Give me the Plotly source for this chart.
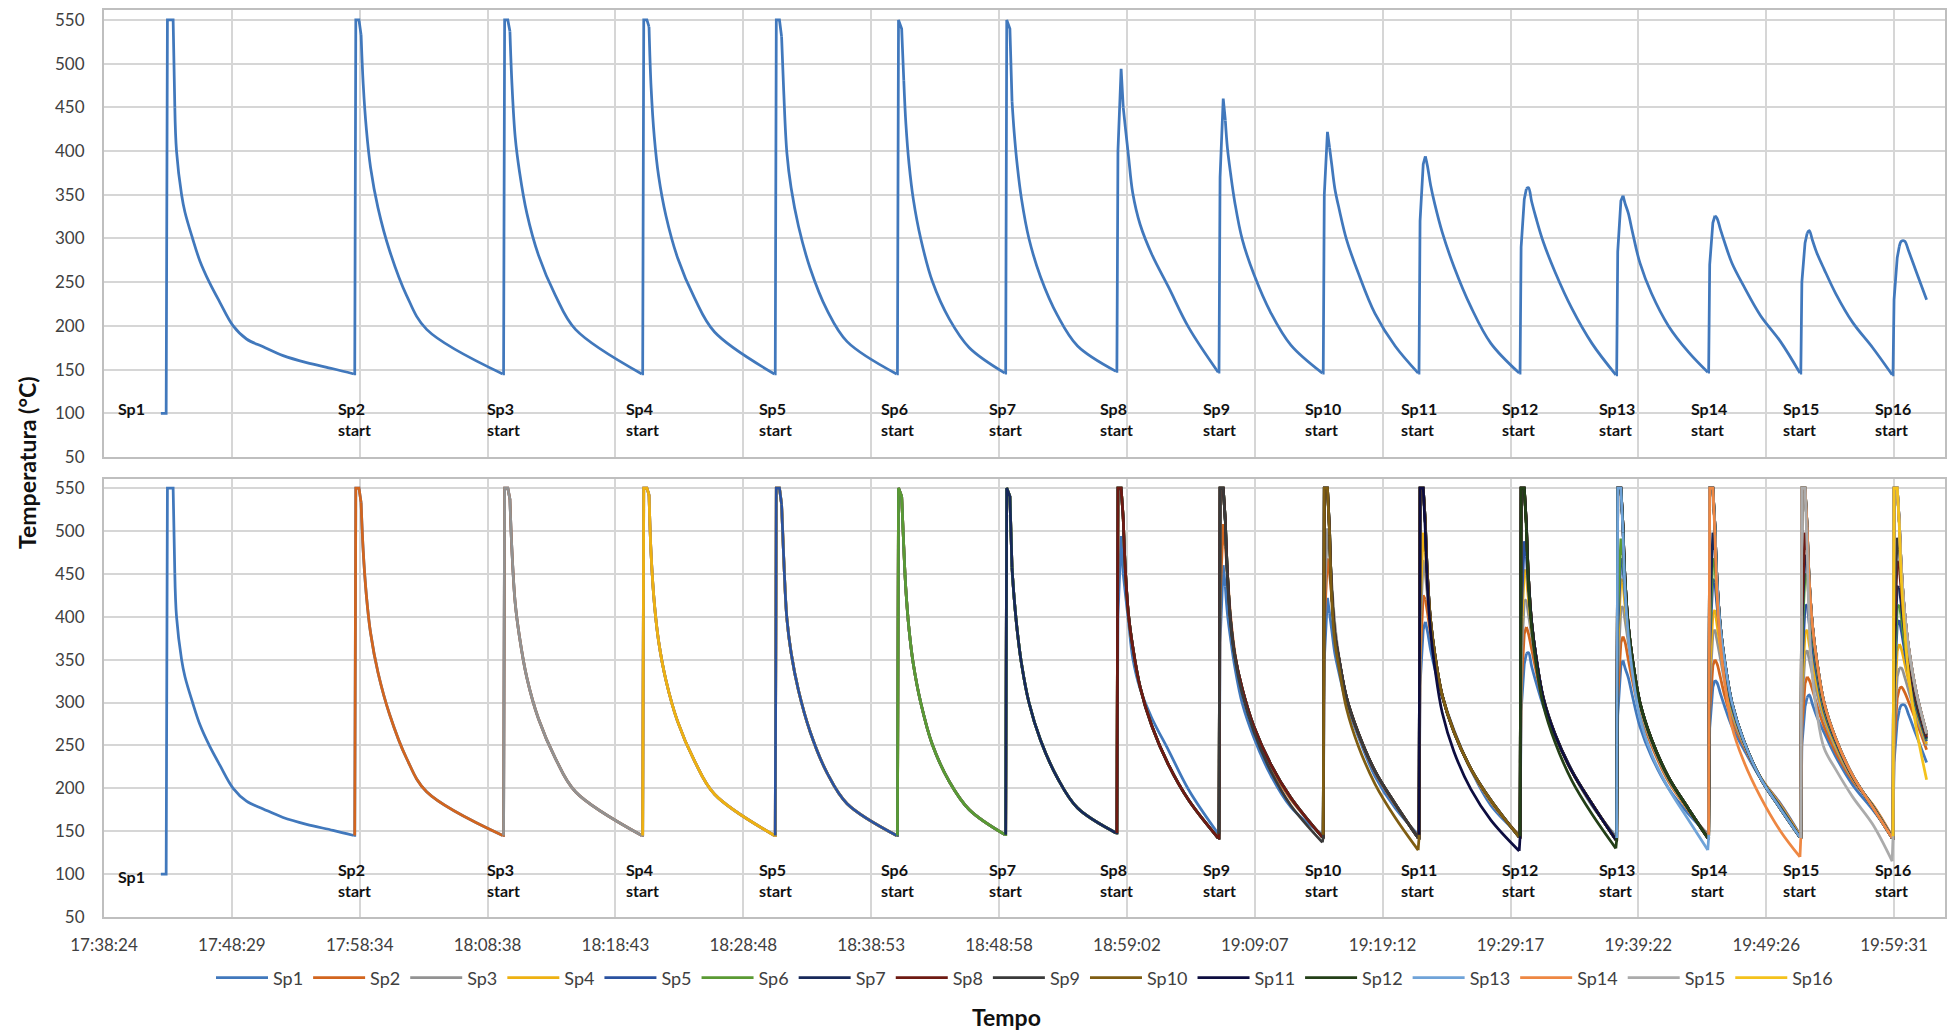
import plotly.graph_objects as go

# ---------------------------------------------------------------- time axis
# Elapsed seconds after 17:38:24; ticks are every 604.8 s of logger time.
TICK_STEP_S = 604.8
TICK_LABELS = ["17:38:24", "17:48:29", "17:58:34", "18:08:38", "18:18:43",
               "18:28:48", "18:38:53", "18:48:58", "18:59:02", "19:09:07",
               "19:19:12", "19:29:17", "19:39:22", "19:49:26", "19:59:31"]
X_MAX_S = 8708
Y_TICKS = [50, 100, 150, 200, 250, 300, 350, 400, 450, 500, 550]

# instant (s) at which each specimen is put in, i.e. start of heating cycle 1..16
RISE_S = [298, 1186, 1890, 2548, 3175, 3753, 4265, 4791,
          5274, 5767, 6220, 6698, 7155, 7590, 8026, 8462]
LOG_END_S = 8621

# sample offsets (s after the rise) used inside every heating cycle;
# the last sample of a cycle sits just before the next rise
CYCLE_OFFSETS_S = [0, 5, 20, 30, 40, 55, 75, 110, 165, 245, 340]
LAST_CYCLE_OFFSETS_S = [0, 5, 20, 30, 40, 55, 75, 110]
HEAD_SAMPLES = 4  # rise + plateau samples; the cooling branch follows

# ---------------------------------------------------------------- Sp1, cycle 1
SP1_LEAD_T = [269, 294, 300, 327, 335, 343, 367, 383, 419, 454, 498, 548,
              611, 674, 753, 847, 958, 1083, 1182]
SP1_LEAD_V = [100, 100, 550, 550, 450, 400, 350, 330, 300, 274, 250, 227,
              200, 185, 176, 166, 158, 151, 145]
SP1_LEAD_HEAD = 5

# ---------------------------------------------------------------- temperatures (°C)
# cycles 2-7: every specimen present reaches the 550 °C cap
C2 = [145, 550, 550, 533, 477, 425, 381, 335, 286, 235, 196, 145]
C3 = [145, 550, 550, 537, 475, 416, 377, 329, 281, 235, 196, 145]
C4 = [145, 550, 550, 542, 472, 416, 372, 326, 278, 232, 193, 145]
C5 = [145, 550, 550, 531, 469, 398, 358, 314, 266, 218, 182, 145]
C6 = [145, 550, 540, 481, 431, 385, 345, 300, 251, 208, 175, 146]
C7 = [146, 550, 540, 457, 422, 383, 345, 300, 256, 212, 177, 148]

# Sp1 from cycle 8 on
C8_SP1 = [148, 400, 494, 450, 427, 394, 352, 316, 282, 244, 198, 147]
C9_SP1 = [147, 370, 460, 435, 403, 374, 341, 299, 259, 215, 178, 146]
C10_SP1 = [146, 350, 422, 404, 385, 357, 334, 299, 261, 214, 177, 146]
C11_SP1 = [146, 320, 385, 394, 383, 361, 339, 307, 268, 222, 180, 146]
C12_SP1 = [146, 290, 345, 357, 358, 342, 324, 296, 262, 220, 180, 144]
C13_SP1 = [144, 285, 343, 349, 340, 329, 307, 272, 237, 200, 170, 147]
C14_SP1 = [147, 270, 318, 326, 323, 311, 296, 272, 246, 212, 182, 146]
C15_SP1 = [146, 250, 295, 306, 309, 298, 284, 265, 237, 204, 175, 144]
C16_SP1 = [144, 230, 278, 291, 297, 297, 285, 262, 230]

# specimens still reaching 550 °C in cycles 8-16
C8_HOT = [148, 550, 550, 515, 455, 402, 365, 318, 273, 227, 186, 142]
C9_HOT = [142, 550, 550, 512, 450, 395, 355, 316, 272, 228, 189, 143]
C10_HOT = [143, 550, 550, 500, 430, 380, 350, 306, 265, 220, 182, 142]
C11_HOT = [142, 550, 550, 510, 448, 395, 356, 308, 266, 223, 186, 143]
C12_HOT = [143, 550, 550, 508, 445, 393, 354, 305, 263, 220, 182, 140]
C13_HOT = [140, 550, 550, 505, 442, 390, 350, 300, 257, 213, 176, 142]
C14_HOT = [142, 550, 550, 505, 442, 390, 350, 300, 256, 212, 176, 143]
C15_HOT = [143, 550, 550, 505, 442, 390, 350, 300, 258, 215, 178, 142]
C16_HOT = [142, 550, 550, 510, 455, 405, 362, 312, 264]

# specimen just put in (its first cycle) in cycles 9-16
C9_NEW = [147, 550, 550, 510, 445, 392, 352, 310, 266, 220, 180, 137]
C10_NEW = [146, 550, 550, 495, 420, 370, 340, 293, 250, 205, 166, 128]
C11_NEW = [146, 550, 550, 500, 435, 382, 340, 288, 243, 199, 163, 127]
C12_NEW = [144, 550, 550, 502, 438, 386, 346, 297, 254, 209, 170, 130]
C13_NEW = [142, 550, 550, 498, 430, 378, 334, 282, 240, 200, 163, 128]
C14_NEW = [146, 550, 550, 495, 425, 370, 326, 272, 232, 190, 150, 120]
C15_NEW = [142, 550, 550, 480, 390, 330, 290, 247, 222, 190, 158, 115]
C16_NEW = [144, 550, 550, 505, 440, 385, 330, 270, 210]

# older specimens whose peak no longer reaches 550 °C
C9_SP2 = [146, 420, 508, 482, 450, 400, 358, 312, 268, 224, 187, 144]
C10_SP2 = [144, 390, 468, 450, 425, 385, 350, 305, 264, 219, 181, 143]
C10_SP3 = [144, 415, 503, 478, 440, 392, 352, 306, 265, 220, 182, 142]
C11_SP2 = [143, 350, 425, 420, 405, 380, 352, 308, 267, 222, 184, 145]
C11_SP3 = [142, 385, 466, 450, 425, 390, 355, 308, 267, 222, 185, 144]
C11_SP4 = [142, 410, 498, 475, 440, 395, 356, 308, 266, 223, 185, 144]
C12_SP2 = [145, 315, 380, 388, 380, 362, 338, 300, 263, 220, 181, 142]
C12_SP3 = [144, 345, 418, 420, 402, 378, 347, 303, 263, 220, 181, 142]
C12_SP4 = [144, 375, 455, 448, 420, 386, 352, 305, 263, 220, 182, 141]
C12_SP5 = [143, 400, 488, 470, 432, 392, 355, 306, 264, 221, 182, 141]
C13_SP2 = [142, 305, 370, 377, 370, 350, 325, 288, 250, 208, 174, 145]
C13_SP3 = [142, 335, 410, 412, 395, 370, 338, 293, 253, 210, 175, 144]
C13_SP4 = [141, 365, 444, 440, 412, 380, 345, 297, 255, 211, 175, 143]
C13_SP5 = [141, 385, 468, 458, 425, 386, 348, 299, 256, 212, 176, 143]
C13_SP6 = [140, 405, 491, 472, 433, 389, 350, 300, 257, 213, 176, 142]
C14_SP2 = [145, 290, 343, 350, 345, 330, 309, 280, 250, 213, 181, 145]
C14_SP3 = [144, 315, 380, 385, 372, 352, 325, 287, 252, 213, 180, 144]
C14_SP4 = [143, 335, 403, 408, 390, 365, 333, 291, 254, 213, 179, 144]
C14_SP5 = [143, 365, 444, 440, 412, 378, 342, 295, 255, 212, 178, 143]
C14_SP6 = [142, 385, 468, 458, 425, 385, 346, 298, 256, 212, 177, 143]
C14_SP7 = [142, 405, 498, 478, 438, 390, 349, 299, 256, 212, 177, 143]
C15_SP2 = [145, 270, 322, 330, 326, 315, 298, 272, 242, 209, 181, 144]
C15_SP3 = [144, 295, 356, 361, 350, 333, 312, 280, 247, 211, 180, 143]
C15_SP4 = [144, 315, 380, 385, 368, 348, 322, 285, 250, 212, 180, 143]
C15_SP5 = [143, 340, 412, 414, 392, 365, 333, 290, 253, 213, 179, 143]
C15_SP6 = [143, 370, 450, 446, 416, 380, 342, 294, 255, 214, 179, 142]
C15_SP7 = [143, 390, 472, 462, 428, 386, 346, 297, 256, 214, 179, 142]
C15_SP8 = [143, 405, 498, 478, 438, 390, 349, 298, 257, 214, 178, 142]
C16_SP2 = [144, 250, 305, 316, 318, 312, 300, 278, 245]
C16_SP3 = [143, 270, 330, 340, 340, 330, 313, 284, 250]
C16_SP4 = [143, 290, 360, 368, 362, 346, 324, 289, 252]
C16_SP5 = [143, 315, 390, 396, 383, 360, 333, 293, 255]
C16_SP6 = [142, 330, 410, 414, 398, 370, 340, 296, 257]
C16_SP7 = [142, 350, 435, 434, 412, 380, 346, 299, 258]
C16_SP8 = [142, 375, 465, 458, 428, 390, 352, 303, 260]
C16_SP9 = [142, 395, 492, 478, 440, 397, 356, 306, 262]

# per specimen: its cycles, starting with the cycle it was put in
SP1_CYCLES = [C2, C3, C4, C5, C6, C7, C8_SP1, C9_SP1, C10_SP1, C11_SP1,
              C12_SP1, C13_SP1, C14_SP1, C15_SP1, C16_SP1]
SP2_CYCLES = [C2, C3, C4, C5, C6, C7, C8_HOT, C9_SP2, C10_SP2, C11_SP2,
              C12_SP2, C13_SP2, C14_SP2, C15_SP2, C16_SP2]
SP3_CYCLES = [C3, C4, C5, C6, C7, C8_HOT, C9_HOT, C10_SP3, C11_SP3, C12_SP3,
              C13_SP3, C14_SP3, C15_SP3, C16_SP3]
SP4_CYCLES = [C4, C5, C6, C7, C8_HOT, C9_HOT, C10_HOT, C11_SP4, C12_SP4,
              C13_SP4, C14_SP4, C15_SP4, C16_SP4]
SP5_CYCLES = [C5, C6, C7, C8_HOT, C9_HOT, C10_HOT, C11_HOT, C12_SP5, C13_SP5,
              C14_SP5, C15_SP5, C16_SP5]
SP6_CYCLES = [C6, C7, C8_HOT, C9_HOT, C10_HOT, C11_HOT, C12_HOT, C13_SP6,
              C14_SP6, C15_SP6, C16_SP6]
SP7_CYCLES = [C7, C8_HOT, C9_HOT, C10_HOT, C11_HOT, C12_HOT, C13_HOT, C14_SP7,
              C15_SP7, C16_SP7]
SP8_CYCLES = [C8_HOT, C9_HOT, C10_HOT, C11_HOT, C12_HOT, C13_HOT, C14_HOT,
              C15_SP8, C16_SP8]
SP9_CYCLES = [C9_NEW, C10_HOT, C11_HOT, C12_HOT, C13_HOT, C14_HOT, C15_HOT,
              C16_SP9]
SP10_CYCLES = [C10_NEW, C11_HOT, C12_HOT, C13_HOT, C14_HOT, C15_HOT, C16_HOT]
SP11_CYCLES = [C11_NEW, C12_HOT, C13_HOT, C14_HOT, C15_HOT, C16_HOT]
SP12_CYCLES = [C12_NEW, C13_HOT, C14_HOT, C15_HOT, C16_HOT]
SP13_CYCLES = [C13_NEW, C14_HOT, C15_HOT, C16_HOT]
SP14_CYCLES = [C14_NEW, C15_HOT, C16_HOT]
SP15_CYCLES = [C15_NEW, C16_HOT]
SP16_CYCLES = [C16_NEW]

SERIES_NAMES = ["Sp%d" % i for i in range(1, 17)]
SERIES_CYCLES = [SP1_CYCLES, SP2_CYCLES, SP3_CYCLES, SP4_CYCLES, SP5_CYCLES,
                 SP6_CYCLES, SP7_CYCLES, SP8_CYCLES, SP9_CYCLES, SP10_CYCLES,
                 SP11_CYCLES, SP12_CYCLES, SP13_CYCLES, SP14_CYCLES,
                 SP15_CYCLES, SP16_CYCLES]
SERIES_COLORS = ["#4178BC", "#D2651E", "#929292", "#EEB111", "#2A52A0",
                 "#5A9A33", "#17295A", "#6E1A12", "#3A3A3A", "#7F5D12",
                 "#0D0D40", "#233F17", "#6FA3D8", "#EE8742", "#ABABAB",
                 "#F4C21C"]

FONT = "Lato"
TEXT_COLOR = "#404040"
GRID_COLOR = "#D6D6D6"
FRAME_COLOR = "#BFBFBF"
LINE_W = 2.75


def cycle_times(k):
    """Sample instants of heating cycle k (1-based)."""
    rise = RISE_S[k - 1]
    if k < len(RISE_S):
        return [rise + o for o in CYCLE_OFFSETS_S] + [RISE_S[k] - 4]
    return [rise + o for o in LAST_CYCLE_OFFSETS_S] + [LOG_END_S]


class Path:
    """Collects a specimen's record as straight heating branches and smooth
    cooling branches (separate gap-delimited pieces)."""

    def __init__(self):
        self.heat_t, self.heat_v = [], []
        self.cool_t, self.cool_v = [], []
        self.last = None

    def add(self, times, temps, head):
        assert len(times) == len(temps)
        ht, hv = list(times[:head]), list(temps[:head])
        if self.last is not None:
            ht.insert(0, self.last[0])
            hv.insert(0, self.last[1])
        self.heat_t += ht + [None]
        self.heat_v += hv + [None]
        self.cool_t += list(times[head - 1:]) + [None]
        self.cool_v += list(temps[head - 1:]) + [None]
        self.last = (times[-1], temps[-1])


def build_path(first_cycle, cycles, with_lead=False):
    p = Path()
    if with_lead:
        p.add(SP1_LEAD_T, SP1_LEAD_V, SP1_LEAD_HEAD)
    for k, temps in enumerate(cycles, start=first_cycle):
        p.add(cycle_times(k), temps, HEAD_SAMPLES)
    return p


def add_specimen(fig, path, name, color, xaxis, yaxis, legend):
    fig.add_trace(go.Scatter(x=path.cool_t, y=path.cool_v, mode="lines",
                             name=name, legendgroup=name, showlegend=legend,
                             line=dict(color=color, width=LINE_W,
                                       shape="spline", smoothing=1.0),
                             xaxis=xaxis, yaxis=yaxis, hoverinfo="skip"))
    fig.add_trace(go.Scatter(x=path.heat_t, y=path.heat_v, mode="lines",
                             name=name, legendgroup=name, showlegend=False,
                             line=dict(color=color, width=LINE_W,
                                       shape="linear"),
                             xaxis=xaxis, yaxis=yaxis, hoverinfo="skip"))


fig = go.Figure()

# top panel: Sp1 on its own
sp1_path = build_path(2, SP1_CYCLES, with_lead=True)
add_specimen(fig, sp1_path, "Sp1", SERIES_COLORS[0], "x", "y", False)

# bottom panel: all specimens
for i, (name, cycles, color) in enumerate(zip(SERIES_NAMES, SERIES_CYCLES,
                                              SERIES_COLORS)):
    path = sp1_path if i == 0 else build_path(i + 1, cycles)
    add_specimen(fig, path, name, color, "x2", "y2", True)

# "SpN start" markers in both panels
annotations = []
for xref, yref, sp1_y in (("x", "y", 106), ("x2", "y2", 97)):
    annotations.append(dict(x=132, y=sp1_y, xref=xref, yref=yref,
                            text="<b>Sp1</b>", showarrow=False,
                            font=dict(family=FONT, size=16, color="#111111"),
                            xanchor="center", yanchor="middle"))
    for k in range(2, 17):
        annotations.append(dict(x=RISE_S[k - 1], y=93, xref=xref, yref=yref,
                                text="<b>Sp%d<br>start</b>" % k, align="left",
                                showarrow=False,
                                font=dict(family=FONT, size=16, color="#111111"),
                                xanchor="center", yanchor="middle"))

annotations.append(dict(x=0.49, y=-0.1103, xref="paper", yref="paper",
                        text="<b>Tempo</b>", showarrow=False,
                        font=dict(family=FONT, size=23, color="#111111"),
                        xanchor="center", yanchor="middle"))
annotations.append(dict(x=-0.0418, y=0.5006, xref="paper", yref="paper",
                        text="<b>Temperatura (°C)</b>", showarrow=False,
                        textangle=-90,
                        font=dict(family=FONT, size=23, color="#111111"),
                        xanchor="center", yanchor="middle"))

tickvals = [i * TICK_STEP_S for i in range(len(TICK_LABELS))]
x_common = dict(range=[0, X_MAX_S], tickvals=tickvals, ticktext=TICK_LABELS,
                showgrid=True, gridcolor=GRID_COLOR, gridwidth=1.5,
                showline=True, linecolor=FRAME_COLOR, linewidth=2, mirror=True,
                zeroline=False, ticks="",
                tickfont=dict(family=FONT, size=17, color=TEXT_COLOR))
y_common = dict(tickvals=Y_TICKS, showgrid=True, gridcolor=GRID_COLOR,
                gridwidth=1.5, showline=True, linecolor=FRAME_COLOR,
                linewidth=2, mirror=True, zeroline=False, ticks="",
                ticklabelstandoff=14,
                tickfont=dict(family=FONT, size=17, color=TEXT_COLOR))

fig.update_layout(
    width=1955, height=1033,
    margin=dict(l=104, r=8, t=10, b=116),
    paper_bgcolor="white", plot_bgcolor="white",
    xaxis=dict(x_common, anchor="y", showticklabels=False),
    yaxis=dict(y_common, domain=[0.50717, 1], range=[50, 561.4], anchor="x"),
    xaxis2=dict(x_common, anchor="y2", ticklabelstandoff=12),
    yaxis2=dict(y_common, domain=[0, 0.48291], range=[50, 560.5], anchor="x2"),
    legend=dict(orientation="h", x=0.5, xanchor="center", y=-0.0673,
                yanchor="middle", itemwidth=52,
                font=dict(family=FONT, size=18, color=TEXT_COLOR),
                bgcolor="rgba(0,0,0,0)"),
    annotations=annotations,
    showlegend=True,
    hovermode=False,
)

fig.write_html("out.html")
